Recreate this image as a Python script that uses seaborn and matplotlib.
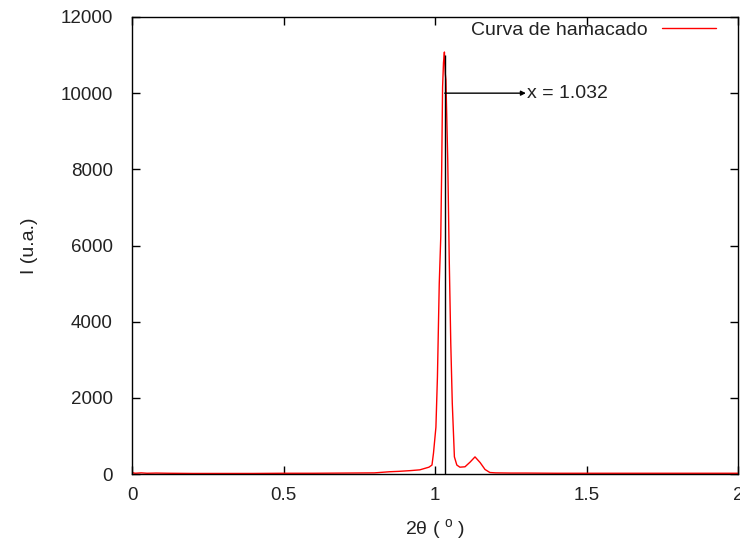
import matplotlib
matplotlib.use("Agg")
import matplotlib.pyplot as plt
import numpy as np
import pandas as pd
import seaborn as sns

# curva de hamacado (rocking curve)
two_theta = [0.00, 0.01, 0.03, 0.05, 0.08, 0.12, 0.20, 0.30, 0.40, 0.50,
             0.60, 0.70, 0.80, 0.85, 0.88, 0.92, 0.95, 0.98, 0.99, 0.995,
             1.003, 1.008, 1.014, 1.019, 1.022, 1.025, 1.028, 1.031, 1.034,
             1.036, 1.042, 1.047, 1.052, 1.057, 1.064, 1.072, 1.082, 1.099,
             1.116, 1.132, 1.149, 1.165, 1.181, 1.20, 1.25, 1.30, 1.40,
             1.50, 1.60, 1.70, 1.80, 1.90, 2.00]
intensity = [40, 20, 30, 20, 25, 20, 15, 15, 15, 20,
             20, 25, 30, 60, 70, 90, 110, 180, 236, 550,
             1230, 2550, 5000, 6220, 7980, 10160, 10800, 11080, 10500,
             10350, 8250, 5620, 3440, 1860, 450, 236, 180, 190,
             315, 450, 300, 120, 40, 30, 25, 25, 20,
             20, 20, 20, 20, 20, 20]

peak_x = 1.032
peak_top = 11000
arrow_y = 10000
arrow_end = 1.30
legend_label = "Curva de hamacado"

df = pd.DataFrame({"2theta": two_theta, "I": intensity})

sns.set_style("ticks")
plt.rcParams["font.family"] = ["Liberation Sans", "DejaVu Sans"]
plt.rcParams["font.size"] = 14
txt = "#222222"

fig, ax = plt.subplots(figsize=(7.4, 5.41), dpi=100)
fig.subplots_adjust(left=0.1784, right=0.9973, bottom=0.1238, top=0.9686)

sns.lineplot(data=df, x="2theta", y="I", ax=ax, color="#ff0000", linewidth=1,
             label=legend_label)

ax.vlines(peak_x, 0, peak_top, color="black", linewidth=1)
ax.annotate("", xy=(arrow_end, arrow_y), xytext=(peak_x, arrow_y),
            arrowprops=dict(arrowstyle="-|>", color="black", lw=1,
                            mutation_scale=7, shrinkA=0, shrinkB=0))
ax.text(arrow_end + 0.004, arrow_y, f"x = {peak_x:.3f}", va="center",
        ha="left", fontsize=14, color=txt)

ax.set_xlim(0, 2)
ax.set_ylim(0, 12000)
ax.set_xticks([0, 0.5, 1, 1.5, 2])
ax.set_xticklabels(["0", "0.5", "1", "1.5", "2"])
ax.set_yticks(np.arange(0, 12001, 2000))
ax.tick_params(direction="in", length=6, width=1, top=True, right=True,
               colors="black", labelcolor=txt, labelsize=13.5)
ax.tick_params(axis="y", pad=13.7)
ax.tick_params(axis="x", pad=9)
for s in ax.spines.values():
    s.set_visible(True)
    s.set_color("black")
    s.set_linewidth(1)

ax.set_xlabel(r"2θ ( $^{\mathregular{o}}$ )", fontsize=14, color=txt,
              labelpad=10)
ax.set_ylabel("I (u.a.)", fontsize=14, color=txt, labelpad=16)

leg = ax.legend(loc="upper right", frameon=False, markerfirst=False,
                handlelength=2.8, handletextpad=0.7, fontsize=14,
                borderpad=0, borderaxespad=0,
                bbox_to_anchor=(0.9637, 0.99))
for t in leg.get_texts():
    t.set_color(txt)

fig.savefig("out.png", dpi=100)
